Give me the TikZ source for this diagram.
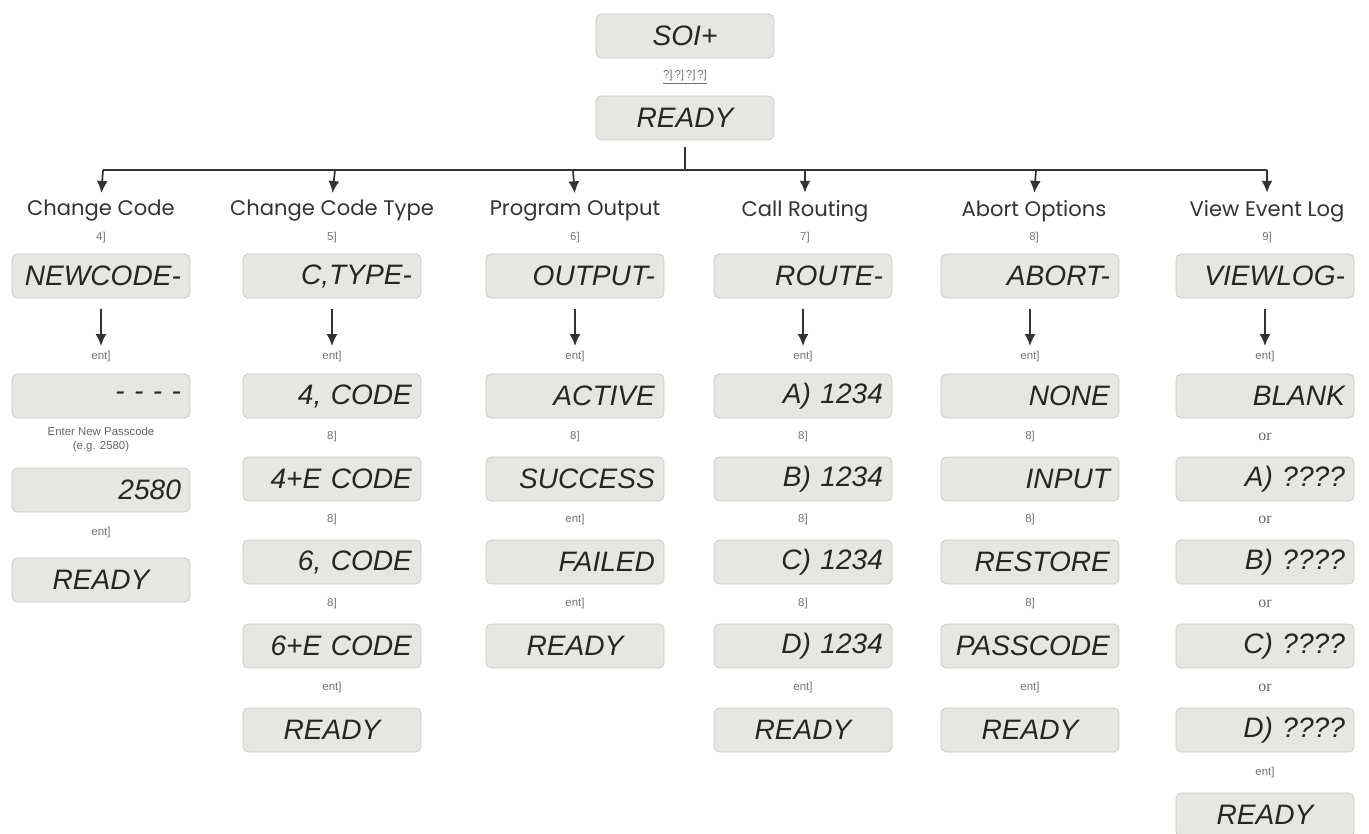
\documentclass[tikz,border=0pt]{standalone}
\usepackage{fontspec}
\usepackage{xcolor}
\usetikzlibrary{arrows.meta,positioning}
\setmainfont{Liberation Serif}
\newfontfamily\lcdfont{Liberation Sans}
\newfontfamily\headfont{Poppins}
\definecolor{lcdfill}{HTML}{E6E7E2}
\definecolor{lcdedge}{HTML}{C6C7C2}

\begin{document}
\begin{tikzpicture}[x=0.02cm, y=-0.02cm,
    lcd/.style={draw=lcdedge, fill=lcdfill, rounded corners=3pt, minimum height=0.88cm,
        text width=3.2cm, inner xsep=0.18cm, align=right, text=black!85,
        font=\lcdfont\itshape\fontsize{16}{18}\selectfont},
    lcdc/.style={lcd, align=center},
    head/.style={font=\headfont\fontsize{12}{14}\selectfont, text=black!80, inner sep=1pt},
    key/.style={font=\lcdfont\fontsize{6.5}{7}\selectfont, text=black!55, inner sep=1pt},
    ornote/.style={font=\fontsize{9}{10}\selectfont, text=black!60, inner sep=1pt},
    line/.style={draw=black!80, line width=1pt},
    arr/.style={line, -{Latex[length=2.4mm,width=2.2mm]}}]
    \useasboundingbox (0,0) rectangle (1369,834);

    % top of the menu
    \node[lcdc] (soi) at (685,36) {SOI+};
    \node[key] (pass) at (685,77) {\underline{?]\,?]\,?]\,?]}};
    \node[lcdc] (ready) at (685,118) {READY};

    \coordinate (bus) at (685,170);
    \coordinate (b1) at (103,170);
    \coordinate (b2) at (335,170);
    \coordinate (b3) at (573,170);
    \coordinate (b4) at (805,170);
    \coordinate (b5) at (1036,170);
    \coordinate (b6) at (1267,170);
    \draw[line, shorten <=4pt] (ready.south) -- (bus);
    \draw[line] (b1) -- (b6);

    % headings
    \node[head] (h1) at (101,211) {Change Code};
    \node[head] (h2) at (332,211) {Change Code Type};
    \node[head] (h3) at (575,211) {Program Output};
    \node[head] (h4) at (805,211) {Call Routing};
    \node[head] (h5) at (1034,211) {Abort Options};
    \node[head] (h6) at (1267,211) {View Event Log};
    \foreach \i in {1,...,6}
        \draw[arr, shorten >=3pt] (b\i) -- (h\i.north);

    \node[key] (k1) at (101,238) {4]};
    \node[key] (k2) at (332,238) {5]};
    \node[key] (k3) at (575,238) {6]};
    \node[key] (k4) at (805,238) {7]};
    \node[key] (k5) at (1034,238) {8]};
    \node[key] (k6) at (1267,238) {9]};

    \node[lcd] (m1) at (101,276) {NEWCODE-};
    \node[lcd] (m2) at (332,276) {C,TYPE-};
    \node[lcd] (m3) at (575,276) {OUTPUT-};
    \node[lcd] (m4) at (803,276) {ROUTE-};
    \node[lcd] (m5) at (1030,276) {ABORT-};
    \node[lcd] (m6) at (1265,276) {VIEWLOG-};

    \node[key] (e1) at (101,357) {ent]};
    \node[key] (e2) at (332,357) {ent]};
    \node[key] (e3) at (575,357) {ent]};
    \node[key] (e4) at (803,357) {ent]};
    \node[key] (e5) at (1030,357) {ent]};
    \node[key] (e6) at (1265,357) {ent]};
    \foreach \i in {1,...,6}
        \draw[arr, shorten <=6pt, shorten >=2pt] (m\i.south) -- (e\i.north);

    % change code
    \node[lcd] (c1a) at (101,396) {- - - -};
    \node[font=\lcdfont\fontsize{6.5}{8}\selectfont, text=black!60, align=center] (c1n) at (101,440) {Enter New Passcode\\(e.g. 2580)};
    \node[lcd] (c1b) at (101,490) {2580};
    \node[key] (c1k) at (101,533) {ent]};
    \node[lcdc] (c1c) at (101,580) {READY};

    % change code type
    \node[lcd] (c2a) at (332,396) {4, CODE};
    \node[key] at (332,437) {8]};
    \node[lcd] (c2b) at (332,479) {4+E CODE};
    \node[key] at (332,520) {8]};
    \node[lcd] (c2c) at (332,562) {6, CODE};
    \node[key] at (332,604) {8]};
    \node[lcd] (c2d) at (332,646) {6+E CODE};
    \node[key] at (332,688) {ent]};
    \node[lcdc] (c2e) at (332,730) {READY};

    % program output
    \node[lcd] (c3a) at (575,396) {ACTIVE};
    \node[key] at (575,437) {8]};
    \node[lcd] (c3b) at (575,479) {SUCCESS};
    \node[key] at (575,520) {ent]};
    \node[lcd] (c3c) at (575,562) {FAILED};
    \node[key] at (575,604) {ent]};
    \node[lcdc] (c3d) at (575,646) {READY};

    % call routing
    \node[lcd] (c4a) at (803,396) {A) 1234};
    \node[key] at (803,437) {8]};
    \node[lcd] (c4b) at (803,479) {B) 1234};
    \node[key] at (803,520) {8]};
    \node[lcd] (c4c) at (803,562) {C) 1234};
    \node[key] at (803,604) {8]};
    \node[lcd] (c4d) at (803,646) {D) 1234};
    \node[key] at (803,688) {ent]};
    \node[lcdc] (c4e) at (803,730) {READY};

    % abort options
    \node[lcd] (c5a) at (1030,396) {NONE};
    \node[key] at (1030,437) {8]};
    \node[lcd] (c5b) at (1030,479) {INPUT};
    \node[key] at (1030,520) {8]};
    \node[lcd] (c5c) at (1030,562) {RESTORE};
    \node[key] at (1030,604) {8]};
    \node[lcd] (c5d) at (1030,646) {PASSCODE};
    \node[key] at (1030,688) {ent]};
    \node[lcdc] (c5e) at (1030,730) {READY};

    % view event log
    \node[lcd] (c6a) at (1265,396) {BLANK};
    \node[ornote] at (1265,437) {or};
    \node[lcd] (c6b) at (1265,479) {A) ????};
    \node[ornote] at (1265,520) {or};
    \node[lcd] (c6c) at (1265,562) {B) ????};
    \node[ornote] at (1265,604) {or};
    \node[lcd] (c6d) at (1265,646) {C) ????};
    \node[ornote] at (1265,688) {or};
    \node[lcd] (c6e) at (1265,730) {D) ????};
    \node[key] at (1265,773) {ent]};
    \node[lcdc] (c6f) at (1265,815) {READY};
\end{tikzpicture}
\end{document}
